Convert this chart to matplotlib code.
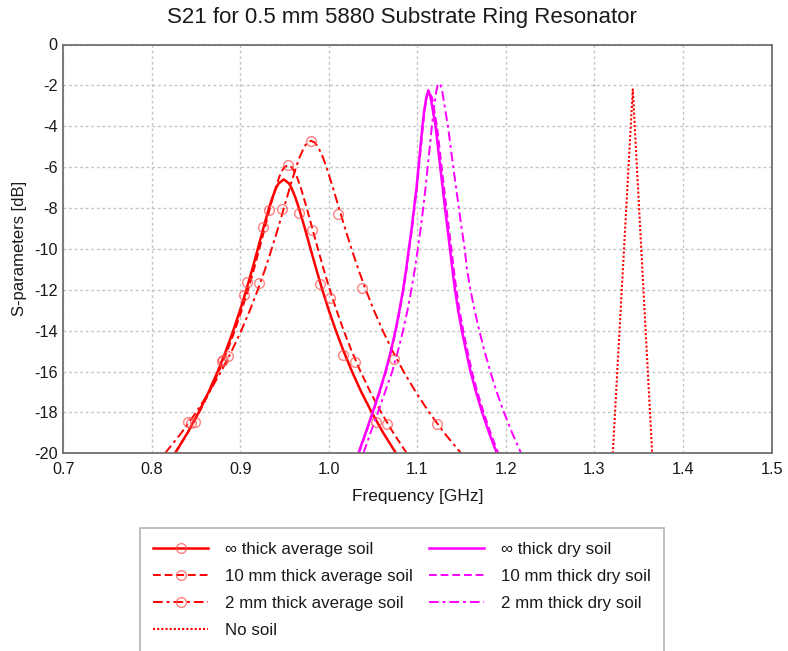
import matplotlib
matplotlib.use("Agg")
import matplotlib.pyplot as plt
from matplotlib.lines import Line2D

plt.rcParams['font.family'] = ['Liberation Sans', 'DejaVu Sans']

# ---------------- data ----------------
# ∞ thick average soil
f_inf_avg = [0.8262, 0.8403, 0.8529, 0.8642, 0.8744, 0.8836, 0.8920, 0.8997, 0.9068, 0.9134,
             0.9197, 0.9259, 0.9324, 0.9361, 0.9406, 0.9432, 0.9490,
             0.9550, 0.9576, 0.9623, 0.9661, 0.9729, 0.9793, 0.9858, 0.9926, 0.9999,
             1.0079, 1.0166, 1.0261, 1.0366, 1.0484, 1.0614, 1.0759]
s_inf_avg = [-20, -19, -18, -17, -16, -15, -14, -13, -12, -11,
             -10, -9, -8, -7.5, -7, -6.8, -6.6,
             -6.8, -7, -7.5, -8, -9, -10, -11, -12, -13,
             -14, -15, -16, -17, -18, -19, -20]
mf_inf_avg = [0.8487, 0.8801, 0.9045, 0.9328, 0.9667, 0.9900, 1.0163, 1.0533]
ms_inf_avg = [-18.45, -15.44, -12.26, -8.10, -8.23, -11.72, -15.19, -18.48]

# 10 mm thick average soil
f_10_avg = [0.8260, 0.8405, 0.8535, 0.8651, 0.8757, 0.8851, 0.8937, 0.9015, 0.9087, 0.9153,
            0.9215, 0.9275, 0.9334, 0.9399, 0.9438, 0.9468, 0.9498, 0.9537,
            0.9578, 0.9609, 0.9641, 0.9682, 0.9750, 0.9813, 0.9876, 0.9941, 1.0011,
            1.0086, 1.0168, 1.0258, 1.0358, 1.0468, 1.0591, 1.0728, 1.0880]
s_10_avg = [-20, -19, -18, -17, -16, -15, -14, -13, -12, -11,
            -10, -9, -8, -7, -6.5, -6.2, -6.0, -5.9,
            -6.0, -6.2, -6.5, -7, -8, -9, -10, -11, -12,
            -13, -14, -15, -16, -17, -18, -19, -20]
mf_10_avg = [0.8440, 0.8790, 0.9080, 0.9260, 0.9537, 0.9814, 1.0014, 1.0296, 1.0661]
ms_10_avg = [-18.5, -15.5, -11.63, -8.94, -5.90, -9.08, -12.39, -15.55, -18.57]

# 2 mm thick average soil
f_2_avg = [0.8149, 0.8334, 0.8500, 0.8649, 0.8782, 0.8902, 0.9010, 0.9108, 0.9197, 0.9279,
           0.9354, 0.9425, 0.9492, 0.9559, 0.9630, 0.9671, 0.9723, 0.9757, 0.9799,
           0.9842, 0.9877, 0.9931, 0.9973, 1.0045, 1.0114, 1.0183, 1.0256, 1.0333,
           1.0417, 1.0508, 1.0609, 1.0720, 1.0844, 1.0981, 1.1133, 1.1303, 1.1494]
s_2_avg = [-20, -19, -18, -17, -16, -15, -14, -13, -12, -11,
           -10, -9, -8, -7, -6, -5.5, -5.0, -4.8, -4.71,
           -4.8, -5.0, -5.5, -6, -7, -8, -9, -10, -11,
           -12, -13, -14, -15, -16, -17, -18, -19, -20]
mf_2_avg = [0.8412, 0.8864, 0.9215, 0.9468, 0.9799, 1.0101, 1.0372, 1.0737, 1.1219]
ms_2_avg = [-18.45, -15.24, -11.68, -8.06, -4.71, -8.29, -11.93, -15.39, -18.57]

# No soil
f_none = [1.3207, 1.3433, 1.3652]
s_none = [-20, -2.2, -20]

# ∞ thick dry soil
f_inf_dry = [1.0333, 1.0415, 1.0494, 1.0570, 1.0640, 1.0700, 1.0752, 1.0797, 1.0838, 1.0873,
             1.0903, 1.0935, 1.0962, 1.0990, 1.1012, 1.1035, 1.1057, 1.1075, 1.1100, 1.1124,
             1.1150, 1.1178, 1.1205, 1.1232, 1.1258, 1.1285, 1.1312, 1.1340, 1.1368, 1.1395,
             1.1425, 1.1460, 1.1502, 1.1550, 1.1600, 1.1662, 1.1732, 1.1810, 1.1897]
s_inf_dry = [-20, -19, -18, -17, -16, -15, -14, -13, -12, -11,
             -10, -9, -8, -7, -6, -5, -4, -3.3, -2.6, -2.24,
             -2.6, -3.3, -4, -5, -6, -7, -8, -9, -10, -11,
             -12, -13, -14, -15, -16, -17, -18, -19, -20]

# 10 mm thick dry soil
f_10_dry = [1.0338, 1.0420, 1.0499, 1.0575, 1.0645, 1.0705, 1.0757, 1.0802, 1.0843, 1.0878,
            1.0908, 1.0940, 1.0967, 1.0995, 1.1017, 1.1040, 1.1062, 1.1080, 1.1104, 1.1127,
            1.1166, 1.1194, 1.1221, 1.1248, 1.1274, 1.1301, 1.1328, 1.1356, 1.1384, 1.1411,
            1.1441, 1.1476, 1.1518, 1.1566, 1.1616, 1.1678, 1.1748, 1.1826, 1.1913]
s_10_dry = [-20, -19, -18, -17, -16, -15, -14, -13, -12, -11,
            -10, -9, -8, -7, -6, -5, -4, -3.3, -2.6, -2.30,
            -2.6, -3.3, -4, -5, -6, -7, -8, -9, -10, -11,
            -12, -13, -14, -15, -16, -17, -18, -19, -20]

# 2 mm thick dry soil
f_2_dry = [1.0390, 1.0470, 1.0555, 1.0635, 1.0715, 1.0780, 1.0838, 1.0888, 1.0932, 1.0970,
           1.1005, 1.1037, 1.1066, 1.1092, 1.1116, 1.1140, 1.1163, 1.1190, 1.1213, 1.1229, 1.1247,
           1.1263, 1.1281, 1.1307, 1.1345, 1.1375, 1.1405, 1.1437, 1.1468, 1.1500, 1.1535,
           1.1560, 1.1599, 1.1646, 1.1699, 1.1758, 1.1823, 1.1896, 1.1978, 1.2070, 1.2172]
s_2_dry = [-20, -19, -18, -17, -16, -15, -14, -13, -12, -11,
           -10, -9, -8, -7, -6, -5, -4, -3, -2.3, -2.0, -1.90,
           -2.0, -2.3, -3, -4, -5, -6, -7, -8, -9, -10,
           -11, -12, -13, -14, -15, -16, -17, -18, -19, -20]

labels = ["\u221e thick average soil", "10 mm thick average soil", "2 mm thick average soil",
          "No soil", "\u221e thick dry soil", "10 mm thick dry soil", "2 mm thick dry soil"]

xticks = [0.7, 0.8, 0.9, 1.0, 1.1, 1.2, 1.3, 1.4, 1.5]
yticks = [0, -2, -4, -6, -8, -10, -12, -14, -16, -18, -20]

# ---------------- styles ----------------
RED = '#ff0000'
MAG = '#ff00ff'
MEC = (1.0, 0.3, 0.3, 0.7)
ls_dash = (0, (4, 2))
ls_dashdot = (0, (5, 2, 1.5, 2))
ls_dot = (0, (1, 1))
TXT = '#1a1a1a'

fig = plt.figure(figsize=(7.88, 6.51), dpi=100)
ax = fig.add_axes([63.3 / 788, 1 - 453.3 / 651, (771.5 - 63.3) / 788, (453.3 - 44.5) / 651])

ax.plot(f_inf_avg, s_inf_avg, color=RED, lw=1.8, ls='-')
ax.plot(f_10_avg, s_10_avg, color=RED, lw=1.4, ls=ls_dash)
ax.plot(f_2_avg, s_2_avg, color=RED, lw=1.4, ls=ls_dashdot)
ax.plot(f_none, s_none, color=RED, lw=1.5, ls=ls_dot)
ax.plot(f_inf_dry, s_inf_dry, color=MAG, lw=1.8, ls='-')
ax.plot(f_10_dry, s_10_dry, color=MAG, lw=1.4, ls=ls_dash)
ax.plot(f_2_dry, s_2_dry, color=MAG, lw=1.4, ls=ls_dashdot)

mk = dict(ls='none', marker='o', ms=7, mfc='none', mec=MEC, mew=1.0)
ax.plot(mf_inf_avg, ms_inf_avg, **mk)
ax.plot(mf_10_avg, ms_10_avg, **mk)
ax.plot(mf_2_avg, ms_2_avg, **mk)

ax.set_xlim(0.7, 1.5)
ax.set_ylim(-20, 0)
ax.set_xticks(xticks)
ax.set_xticklabels([f"{v:.1f}" for v in xticks])
ax.set_yticks(yticks)
ax.set_yticklabels([f"{v:d}" for v in yticks])
ax.tick_params(length=0, labelsize=11.7, colors=TXT)
ax.tick_params(axis='x', pad=6)
ax.tick_params(axis='y', pad=4)
ax.grid(True, color='#c4c4c4', ls=(0, (2, 2)), lw=1.0)
ax.set_axisbelow(True)
for s in ax.spines.values():
    s.set_color('#707070')
    s.set_linewidth(1.3)

ax.set_xlabel("Frequency [GHz]", fontsize=12.5, labelpad=9, color=TXT)
ax.set_ylabel("S-parameters [dB]", fontsize=12, labelpad=5, color=TXT)
fig.text(402 / 788, 1 - 17 / 651, "S21 for 0.5 mm 5880 Substrate Ring Resonator",
         ha='center', va='center', fontsize=16, color=TXT)

# legend proxies
handles = [
    Line2D([], [], color=RED, lw=1.8, ls='-', marker='o', ms=7, mfc='none', mec=MEC),
    Line2D([], [], color=RED, lw=1.4, ls=ls_dash, marker='o', ms=7, mfc='none', mec=MEC),
    Line2D([], [], color=RED, lw=1.4, ls=ls_dashdot, marker='o', ms=7, mfc='none', mec=MEC),
    Line2D([], [], color=RED, lw=1.5, ls=ls_dot),
    Line2D([], [], color=MAG, lw=1.8, ls='-'),
    Line2D([], [], color=MAG, lw=1.4, ls=ls_dash),
    Line2D([], [], color=MAG, lw=1.4, ls=ls_dashdot),
]
leg = fig.legend(handles, labels, ncol=2, loc='upper center',
                 bbox_to_anchor=(402 / 788, 1 - 528 / 651), fontsize=12.2,
                 frameon=True, fancybox=False, edgecolor='#a0a0a0',
                 handlelength=3.25, handletextpad=1.0, columnspacing=0.95,
                 labelspacing=0.72, borderpad=0.8, borderaxespad=0, numpoints=1)
leg.get_frame().set_linewidth(1.2)
for t in leg.get_texts():
    t.set_color(TXT)

fig.savefig("out.png", dpi=100)
